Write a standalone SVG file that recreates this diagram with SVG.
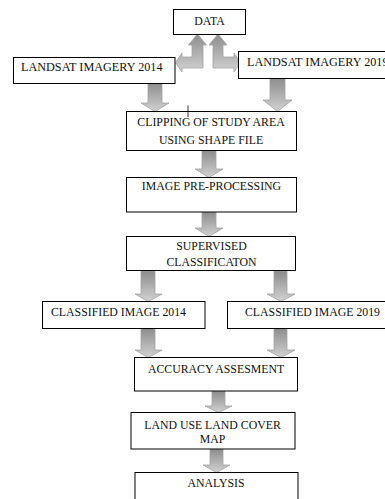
<svg xmlns="http://www.w3.org/2000/svg" width="385" height="499" viewBox="0 0 385 499">
<style>
.box{fill:#fff;stroke:#000;stroke-width:1}
.arr{fill:url(#g);stroke:#a3a3a3;stroke-width:0.8}
text{font-family:"Liberation Serif","Times New Roman",serif;font-size:11.8px;fill:#111}
.c{text-anchor:middle}
.w{font-size:12.2px}
</style>
<defs>
<linearGradient id="g" x1="0" y1="0" x2="0" y2="1">
<stop offset="0" stop-color="#8c8c8c"/>
<stop offset="1" stop-color="#d2d2d2"/>
</linearGradient>
</defs>
<rect width="385" height="499" fill="#fff"/>
<g id="connectors">
<polygon class="arr" points="197.5,34 206.5,45 203,45 203,68 182,68 182,72 175.5,62.5 182,53 182,57 192,57 192,45 188.5,45"/>
<polygon class="arr" points="218,34 227,45 223,45 223,57 234,57 234,53 240.5,62.5 234,72 234,68 213,68 213,45 209,45"/>
<polygon class="arr" points="148,83 162,83 162,103 169,103 155,111.5 141,103 148,103"/>
<polygon class="arr" points="270,78 285,78 285,100 292,100 277.5,111.5 263,100 270,100"/>
<polygon class="arr" points="202,150 216,150 216,169 223,169 209,177.5 195,169 202,169"/>
<polygon class="arr" points="202,212 216,212 216,228 223,228 209,236.5 195,228 202,228"/>
<polygon class="arr" points="141,271 155,271 155,294 162,294 148.5,301.5 135,294 141,294"/>
<polygon class="arr" points="274,271 287,271 287,294 295,294 281,301.5 267,294 274,294"/>
<polygon class="arr" points="141,328 155,328 155,350 162,350 148.5,357.5 135,350 141,350"/>
<polygon class="arr" points="274,328 287,328 287,350 295,350 281,357.5 267,350 274,350"/>
<polygon class="arr" points="212,391 225,391 225,406 232,406 218.5,412.5 205,406 212,406"/>
<polygon class="arr" points="210,449 223,449 223,465 230,465 216.5,472.5 203,465 210,465"/>
</g>
<g id="data"><rect class="box" x="173.5" y="9.5" width="72" height="25"/><text class="c" x="209.5" y="25">DATA</text></g>
<g id="landsat2014"><rect class="box" x="13.5" y="57.5" width="161.5" height="26"/><text class="w" x="21" y="71">LANDSAT IMAGERY 2014</text></g>
<g id="landsat2019"><rect class="box" x="238.5" y="51.5" width="160" height="27"/><text class="w" x="247" y="66">LANDSAT IMAGERY 2019</text></g>
<g id="clipping"><rect class="box" x="126.5" y="111.5" width="170" height="39"/><text class="c" x="211" y="126">CLIPPING OF STUDY AREA</text><text class="c" x="211" y="144">USING SHAPE FILE</text><line x1="188" y1="105.5" x2="188" y2="117" stroke="#000" stroke-width="0.8"/></g>
<g id="preprocessing"><rect class="box" x="126.5" y="177.5" width="170" height="34.5"/><text class="c" x="211.5" y="190">IMAGE PRE-PROCESSING</text></g>
<g id="supervised"><rect class="box" x="126.5" y="236.5" width="169" height="34"/><text class="c" x="211.5" y="250">SUPERVISED</text><text class="c" x="211.5" y="266">CLASSIFICATON</text></g>
<g id="classified2014"><rect class="box" x="42.5" y="301.5" width="162.5" height="27"/><text x="51" y="316">CLASSIFIED IMAGE 2014</text></g>
<g id="classified2019"><rect class="box" x="227.5" y="301.5" width="170" height="27"/><text x="245" y="316">CLASSIFIED IMAGE 2019</text></g>
<g id="accuracy"><rect class="box" x="134.5" y="357.5" width="163" height="33.5"/><text class="c" x="216" y="373">ACCURACY ASSESMENT</text></g>
<g id="lulc"><rect class="box" x="131" y="412.5" width="164" height="36.5"/><text class="c" x="212.5" y="429">LAND USE LAND COVER</text><text class="c" x="212.5" y="443">MAP</text></g>
<g id="analysis"><rect class="box" x="135" y="472.5" width="163" height="30"/><text class="c" x="216" y="487">ANALYSIS</text></g>
</svg>
